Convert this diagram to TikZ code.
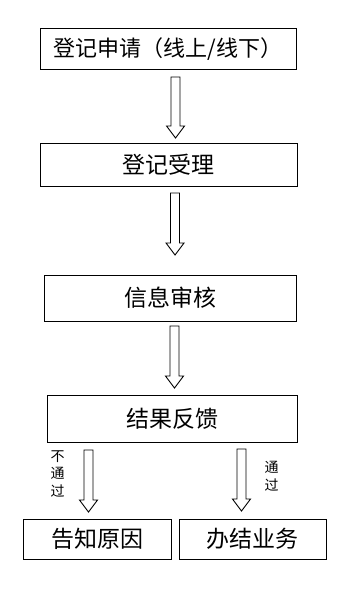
\documentclass[tikz,border=0pt]{standalone}
\usepackage{fontspec}
\setmainfont{Noto Sans CJK SC}
\usetikzlibrary{calc}
\tikzset{
  box/.style={draw=black, line width=1pt, inner sep=0pt, font=\fontsize{23}{26}\selectfont},
  fat/.style={draw=black, line width=0.9pt, fill=white,
    to path={($(\tikztostart)+(-4.5,0)$) -- ($(\tikztostart)+(4.5,0)$) -- ($(\tikztotarget)+(4.5,-12)$) -- ($(\tikztotarget)+(9,-12)$) -- (\tikztotarget) -- ($(\tikztotarget)+(-9,-12)$) -- ($(\tikztotarget)+(-4.5,-12)$) -- cycle}},
  lbl/.style={font=\fontsize{14}{17.5}\selectfont, align=center, inner sep=0pt}
}
\begin{document}
\begin{tikzpicture}[x=1pt, y=-1pt]
\useasboundingbox[fill=white] (0,0) rectangle (350,599);
\node[box, font=\fontsize{22}{25}\selectfont, minimum width=256pt, minimum height=41pt] (b1) at (168,49.5) {登记申请（线上/线下）};
\node[box, minimum width=257pt, minimum height=43pt] (b2) at (168.5,164.5) {登记受理};
\node[box, minimum width=252pt, minimum height=46pt] (b3) at (170,298) {信息审核};
\node[box, minimum width=250pt, minimum height=47pt] (b4) at (172,419) {结果反馈};
\node[box, minimum width=148pt, minimum height=40pt] (b5) at (97,539) {告知原因};
\node[box, minimum width=147pt, minimum height=40pt] (b6) at (252.5,539) {办结业务};
\coordinate (a1s) at (175.5,77);  \coordinate (a1e) at (175.5,138);
\coordinate (a2s) at (175,193);   \coordinate (a2e) at (175,255);
\coordinate (a3s) at (174.5,326); \coordinate (a3e) at (174.5,388);
\coordinate (a4s) at (88.5,450);  \coordinate (a4e) at (88.5,512);
\coordinate (a5s) at (241.5,449); \coordinate (a5e) at (241.5,511);
\draw[fat] (a1s) to (a1e);
\draw[fat] (a2s) to (a2e);
\draw[fat] (a3s) to (a3e);
\draw[fat] (a4s) to (a4e);
\draw[fat] (a5s) to (a5e);
\node[lbl] (l1) at (57.5,474) {不\\通\\过};
\node[lbl] (l2) at (271.5,476) {通\\过};
\end{tikzpicture}
\end{document}
